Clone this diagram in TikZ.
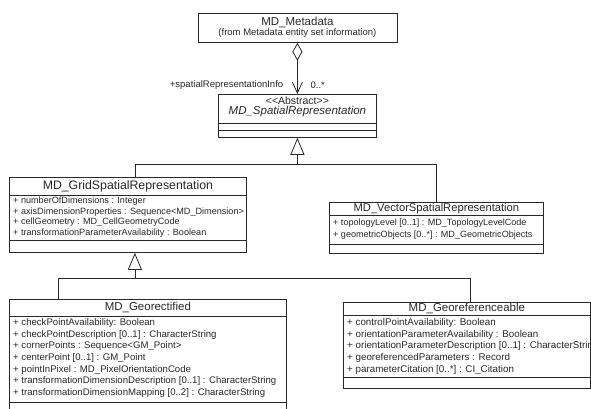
\documentclass[tikz,border=0pt]{standalone}
\usepackage{fontspec}
\setmainfont{Liberation Sans}
\usepackage{tikz}
\usetikzlibrary{arrows.meta,calc,positioning}
\definecolor{umlInk}{RGB}{40,40,40}
\tikzset{
  classBox/.style={draw=umlInk, line width=0.8pt, fill=white, inner sep=0pt},
  classLine/.style={draw=umlInk, line width=0.8pt},
  className/.style={font=\fontsize{11.5}{12}\selectfont, text=umlInk, inner sep=0pt},
  attrText/.style={text=umlInk, anchor=west, inner sep=0pt},
  roleText/.style={font=\fontsize{9.5}{10}\selectfont, text=umlInk, inner sep=0pt},
  inheritArrow/.style={-{Triangle[open, length=17pt, width=14pt]}, draw=umlInk, line width=0.8pt},
  aggrLink/.style={{Diamond[open, length=18pt, width=10pt]}-{Straight Barb[length=11pt, width=10pt]}, draw=umlInk, line width=0.8pt}
}
\newcommand{\ClassBox}[7]{% #1=node, #2=x, #3=y, #4=width, #5=height, #6=name row, #7=attr row
  \node[classBox, anchor=north west, minimum width=#4pt, minimum height=#5pt] (#1) at (#2,#3) {};
  \draw[classLine] ($(#1.north west)+(0,#6)$) -- ($(#1.north east)+(0,#6)$);
  \draw[classLine] ($(#1.north west)+(0,#7)$) -- ($(#1.north east)+(0,#7)$);
}
\newcommand{\AttrList}[5][9.8]{% #1=font size, #2=box, #3=first row, #4=row step, #5=attributes
  \foreach \attr [count=\i from 0] in {#5}{%
    \node[attrText, font=\fontsize{#1}{11}\selectfont] (#2-a\i) at ($(#2.north west)+(4,{#3+\i*#4})$) {\attr};
  }%
}

\begin{document}
\begin{tikzpicture}[x=1pt, y=-1pt]
  \useasboundingbox[fill=white] (0,0) rectangle (591,409);
  % owner class
  \node[classBox, anchor=north west, minimum width=199pt, minimum height=29pt] (meta) at (197.5,13) {};
  \node[className] (metaName) at ($(meta.north)+(0,9)$) {MD\_Metadata};
  \node[roleText] (metaFrom) at ($(meta.north)+(0,20.5)$) {(from Metadata entity set information)};
  % abstract parent
  \ClassBox{spatial}{218}{94}{158}{43}{29}{36}
  \node[roleText, font=\fontsize{10.5}{11}\selectfont] (spatialStereo) at ($(spatial.north)+(0,7)$) {<{}<Abstract>{}>};
  \node[className, font=\fontsize{11.5}{12}\selectfont\itshape] (spatialName) at ($(spatial.north)+(0,18)$) {MD\_SpatialRepresentation};
  % grid and vector subclasses
  \ClassBox{grid}{9}{177}{237}{75}{18}{63}
  \node[className, font=\fontsize{12.3}{13}\selectfont] (gridName) at ($(grid.north)+(0,9)$) {MD\_GridSpatialRepresentation};
  \AttrList[9.1]{grid}{24.5}{10.5}{+ numberOfDimensions : Integer,
    + axisDimensionProperties : Sequence<MD\_Dimension>,
    + cellGeometry : MD\_CellGeometryCode,
    + transformationParameterAvailability : Boolean}
  \ClassBox{vector}{329}{202}{214}{51}{13}{42}
  \node[className, font=\fontsize{11.2}{12}\selectfont] (vectorName) at ($(vector.north)+(0,6.5)$) {MD\_VectorSpatialRepresentation};
  \AttrList[9.05]{vector}{21}{12.5}{+ topologyLevel [0..1] : MD\_TopologyLevelCode,
    + geometricObjects [0..*] : MD\_GeometricObjects}
  % grid specialisations
  \ClassBox{georect}{9}{299}{277}{115}{17}{103}
  \node[className] (georectName) at ($(georect.north)+(0,8.5)$) {MD\_Georectified};
  \AttrList[9.6]{georect}{24}{11.7}{+ checkPointAvailability: Boolean,
    + checkPointDescription [0..1] : CharacterString,
    + cornerPoints : Sequence<GM\_Point>,
    + centerPoint [0..1] : GM\_Point,
    + pointInPixel : MD\_PixelOrientationCode,
    + transformationDimensionDescription [0..1] : CharacterString,
    + transformationDimensionMapping [0..2] : CharacterString}
  \ClassBox{georef}{343}{302}{247}{86}{13}{75}
  \node[className] (georefName) at ($(georef.north)+(0,6.5)$) {MD\_Georeferenceable};
  \AttrList{georef}{21}{11.7}{+ controlPointAvailability: Boolean,
    + orientationParameterAvailability : Boolean,
    + orientationParameterDescription [0..1] : CharacterString,
    + georeferencedParameters : Record,
    + parameterCitation [0..*] : CI\_Citation}
  % association
  \draw[aggrLink] (meta.south) -- (spatial.north);
  \node[roleText, anchor=east] (roleName) at ($(spatial.north)+(-14,-9)$) {+spatialRepresentationInfo};
  \node[roleText, anchor=west] (roleMult) at ($(spatial.north)+(13,-9)$) {0..*};
  % generalisations
  \coordinate (hubTop) at ($(spatial.south)+(0,27)$);
  \draw[inheritArrow] ([xshift=7pt]grid.north) |- (hubTop) -- (spatial.south);
  \draw[classLine] (vector.north) |- (hubTop);
  \coordinate (hubLow) at ($([xshift=7pt]grid.south)+(0,26)$);
  \draw[inheritArrow] ([xshift=49pt]georect.north west) |- (hubLow) -- ([xshift=7pt]grid.south);
  \draw[classLine] ([xshift=3.5pt]georef.north) |- (hubLow);
\end{tikzpicture}
\end{document}
